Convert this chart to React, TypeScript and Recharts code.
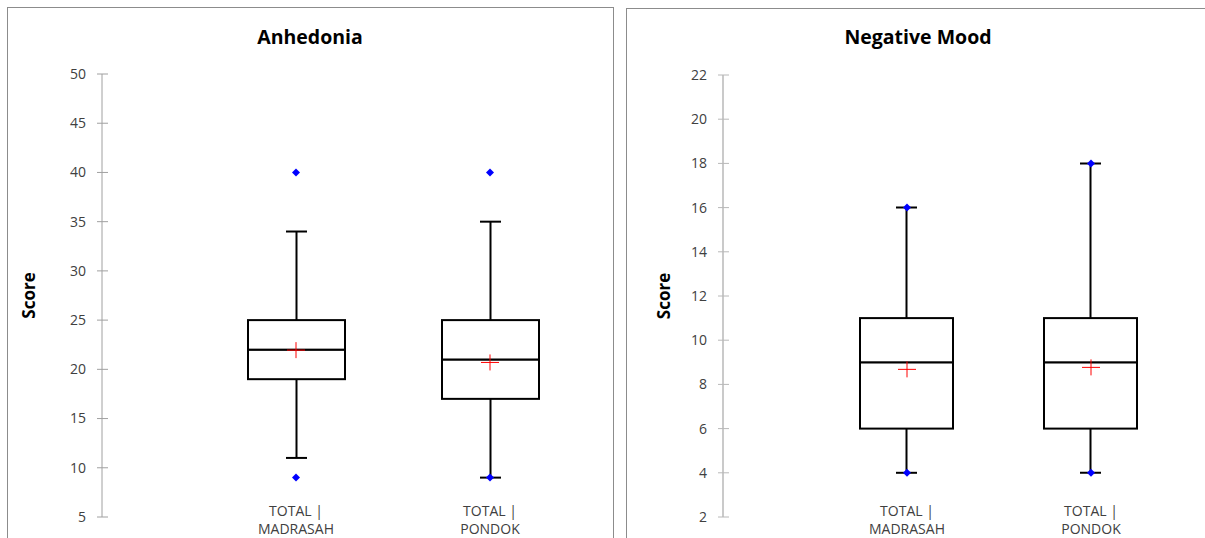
import React from 'react';
import { ComposedChart, Bar, Scatter, XAxis, YAxis } from 'recharts';

// ---- data ----
const categories = ['TOTAL | MADRASAH', 'TOTAL | PONDOK'];
const categoryX = [1, 2];

// Anhedonia
const anhMin = [9, 9];
const anhWhiskerLow = [11, 9];
const anhQ1 = [19, 17];
const anhMedian = [22, 21];
const anhQ3 = [25, 25];
const anhWhiskerHigh = [34, 35];
const anhMax = [40, 40];
const anhMean = [21.95, 20.7];
const anhTicks = [5, 10, 15, 20, 25, 30, 35, 40, 45, 50];

// Negative Mood
const negMin = [4, 4];
const negWhiskerLow = [4, 4];
const negQ1 = [6, 6];
const negMedian = [9, 9];
const negQ3 = [11, 11];
const negWhiskerHigh = [16, 18];
const negMax = [16, 18];
const negMean = [8.68, 8.77];
const negTicks = [2, 4, 6, 8, 10, 12, 14, 16, 18, 20, 22];

const FONT = '"Open Sans", sans-serif';

function buildBoxRows(low: number[], q1: number[], med: number[], q3: number[], high: number[]) {
  return categoryX.map((x, i) => ({
    x,
    base: low[i],
    lw: q1[i] - low[i],
    b1: med[i] - q1[i],
    b2: q3[i] - med[i],
    uw: high[i] - q3[i],
  }));
}

function buildPoints(a: number[], b: number[]) {
  const pts: { x: number; y: number }[] = [];
  categoryX.forEach((x, i) => {
    pts.push({ x, y: a[i] });
    pts.push({ x, y: b[i] });
  });
  return pts;
}

function buildMeans(m: number[]) {
  return categoryX.map((x, i) => ({ x, y: m[i] }));
}

const CAP = 10.5;

const Empty = () => <g />;

const LowerWhisker = (p: any) => {
  const cx = p.x + p.width / 2;
  const yb = p.y + p.height;
  return (
    <g>
      <line x1={cx} x2={cx} y1={p.y} y2={yb} stroke="#000" strokeWidth={2} />
      <line x1={cx - CAP} x2={cx + CAP} y1={yb} y2={yb} stroke="#000" strokeWidth={2} />
    </g>
  );
};

const UpperWhisker = (p: any) => {
  const cx = p.x + p.width / 2;
  const yb = p.y + p.height;
  return (
    <g>
      <line x1={cx} x2={cx} y1={p.y} y2={yb} stroke="#000" strokeWidth={2} />
      <line x1={cx - CAP} x2={cx + CAP} y1={p.y} y2={p.y} stroke="#000" strokeWidth={2} />
    </g>
  );
};

const BoxPart = (p: any) => (
  <rect x={p.x} y={p.y} width={p.width} height={p.height} fill="#fff" stroke="#000" strokeWidth={2} />
);

const Diamond = (p: any) => {
  const { cx, cy } = p;
  const r = 4;
  return <polygon points={`${cx},${cy - r} ${cx + r},${cy} ${cx},${cy + r} ${cx - r},${cy}`} fill="#0000ff" />;
};

const Plus = (p: any) => {
  const { cx, cy } = p;
  return (
    <g>
      <line x1={cx - 9} x2={cx + 9} y1={cy} y2={cy} stroke="#ff0000" strokeWidth={1} />
      <line x1={cx} x2={cx} y1={cy - 8} y2={cy + 8} stroke="#ff0000" strokeWidth={1} />
    </g>
  );
};

const makeYTick = (axisColor: string) => (p: any) => {
  const axisX = p.x + 8;
  return (
    <g>
      <line x1={axisX - 5} x2={axisX + 6} y1={p.y} y2={p.y} stroke={axisColor} strokeWidth={1} />
      <text x={axisX - 16} y={p.y} dy="0.35em" textAnchor="end" fill="#404040" fontSize={14} fontFamily={FONT}>
        {p.payload.value}
      </text>
    </g>
  );
};

const XTick = (p: any) => {
  const idx = categoryX.indexOf(p.payload.value);
  const label = categories[idx] || '';
  const parts = label.split(' | ');
  const axisY = p.y - 8;
  return (
    <g>
      <text x={p.x} y={axisY - 1.5} textAnchor="middle" fill="#404040" fontSize={14} fontFamily={FONT}>
        {parts[0] + ' |'}
      </text>
      <text x={p.x} y={axisY + 16.5} textAnchor="middle" fill="#404040" fontSize={14} fontFamily={FONT}>
        {parts[1]}
      </text>
    </g>
  );
};

type PanelProps = {
  title: string;
  left: number;
  width: number;
  top: number;
  bottom: number;
  right: number;
  xMax: number;
  barSize: number;
  yDomain: [number, number];
  yTicks: number[];
  rows: any[];
  points: any[];
  means: any[];
  scoreX: number;
  axisColor: string;
  axisWidth: number;
  titleCenter: number;
};

function Panel(props: PanelProps) {
  const height = 560;
  const YTick = makeYTick(props.axisColor);
  return (
    <>
      <div
        style={{
          position: 'absolute',
          left: props.titleCenter - 200,
          width: 400,
          top: 24,
          textAlign: 'center',
          fontFamily: FONT,
          fontWeight: 700,
          fontSize: 19.5,
          lineHeight: '26px',
          color: '#000',
        }}
      >
        {props.title}
      </div>
      <div style={{ position: 'absolute', left: props.left, top: 0 }}>
        <ComposedChart
          width={props.width}
          height={height}
          data={props.rows}
          margin={{ top: props.top, right: props.right, bottom: 0, left: 0 }}
          barGap={0}
        >
          <XAxis
            type="number"
            dataKey="x"
            domain={[0, props.xMax]}
            ticks={categoryX}
            axisLine={false}
            tickLine={false}
            tickSize={6}
            tickMargin={2}
            height={height - props.bottom}
            tick={<XTick />}
            allowDataOverflow
          />
          <YAxis
            type="number"
            domain={props.yDomain}
            ticks={props.yTicks}
            allowDataOverflow
            width={102}
            tickSize={6}
            tickMargin={2}
            tickLine={false}
            axisLine={{ stroke: props.axisColor, strokeWidth: props.axisWidth }}
            tick={<YTick />}
            interval={0}
            label={{
              content: (lp: any) => {
                const vb = lp.viewBox || { x: 0, y: props.top, height: props.bottom - props.top };
                const cy = vb.y + vb.height / 2;
                return (
                  <text
                    x={props.scoreX}
                    y={cy}
                    transform={`rotate(-90 ${props.scoreX} ${cy})`}
                    textAnchor="middle"
                    dominantBaseline="central"
                    fontFamily={FONT}
                    fontWeight={700}
                    fontSize={17}
                    fill="#000"
                  >
                    Score
                  </text>
                );
              },
            }}
          />
          <Bar dataKey="base" stackId="box" barSize={props.barSize} shape={<Empty />} isAnimationActive={false} />
          <Bar dataKey="lw" stackId="box" barSize={props.barSize} shape={<LowerWhisker />} isAnimationActive={false} />
          <Bar dataKey="b1" stackId="box" barSize={props.barSize} shape={<BoxPart />} isAnimationActive={false} />
          <Bar dataKey="b2" stackId="box" barSize={props.barSize} shape={<BoxPart />} isAnimationActive={false} />
          <Bar dataKey="uw" stackId="box" barSize={props.barSize} shape={<UpperWhisker />} isAnimationActive={false} />
          <Scatter data={props.points} dataKey="y" shape={<Diamond />} isAnimationActive={false} />
          <Scatter data={props.means} dataKey="y" shape={<Plus />} isAnimationActive={false} />
        </ComposedChart>
      </div>
    </>
  );
}

export default function App() {
  const anhRows = buildBoxRows(anhWhiskerLow, anhQ1, anhMedian, anhQ3, anhWhiskerHigh);
  const negRows = buildBoxRows(negWhiskerLow, negQ1, negMedian, negQ3, negWhiskerHigh);
  return (
    <div
      style={{
        position: 'absolute',
        left: 0,
        top: 0,
        width: 1205,
        height: 538,
        overflow: 'hidden',
        background: '#fff',
        fontFamily: FONT,
      }}
    >
      <div
        style={{
          position: 'absolute',
          left: 7,
          top: 7,
          width: 607,
          height: 600,
          border: '1px solid #8c8c8c',
          boxSizing: 'border-box',
        }}
      />
      <div
        style={{
          position: 'absolute',
          left: 626,
          top: 8,
          width: 600,
          height: 600,
          border: '1px solid #8c8c8c',
          boxSizing: 'border-box',
        }}
      />
      <Panel
        title="Anhedonia"
        left={0}
        width={620}
        top={74}
        bottom={517}
        right={33}
        xMax={2.5}
        barSize={97}
        yDomain={[5, 50]}
        yTicks={anhTicks}
        rows={anhRows}
        points={buildPoints(anhMin, anhMax)}
        means={buildMeans(anhMean)}
        scoreX={28}
        axisColor="#a0a0a0"
        axisWidth={1}
        titleCenter={310}
      />
      <Panel
        title="Negative Mood"
        left={621}
        width={584}
        top={75}
        bottom={517}
        right={3.6}
        xMax={2.6}
        barSize={93}
        yDomain={[2, 22]}
        yTicks={negTicks}
        rows={negRows}
        points={buildPoints(negMin, negMax)}
        means={buildMeans(negMean)}
        scoreX={42}
        axisColor="#b8b8b8"
        axisWidth={1.5}
        titleCenter={918}
      />
    </div>
  );
}
